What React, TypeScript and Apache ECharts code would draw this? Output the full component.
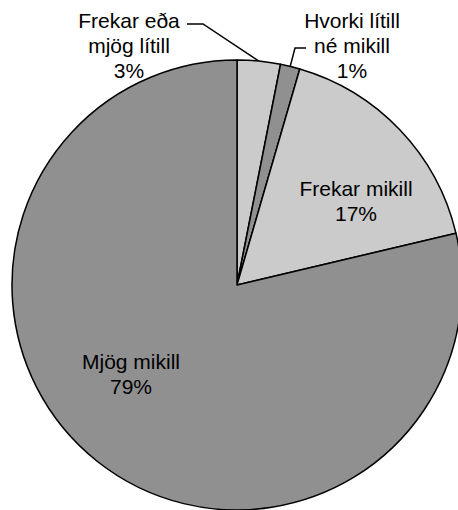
import React, { useEffect, useRef } from "react";
import * as echarts from "echarts";

const categories = ["Frekar eða\nmjög lítill", "Hvorki lítill\nné mikill", "Frekar mikill", "Mjög mikill"];
const values = [3.1, 1.4, 16.8, 78.7];
const colors = ["#cbcbcb", "#909090", "#cbcbcb", "#909090"];
const labelPositions = ["outside", "outside", "inside", "inside"];
// label centres and leader-line bends (layout, not data)
const labelCenters: number[][] = [[129, 45], [352, 45], [356, 201], [131, 374]];
const leaderBends: number[][][] = [
  [[203, 24], [187, 24]],
  [[295, 48], [306, 48]],
  [],
  [],
];

export default function App() {
  const ref = useRef<HTMLDivElement>(null);
  useEffect(() => {
    if (!ref.current) return;
    const chart = echarts.init(ref.current, undefined, { renderer: "svg" });
    chart.setOption({
      animation: false,
      backgroundColor: "#ffffff",
      series: [
        {
          type: "pie",
          center: [237, 285],
          radius: 225,
          startAngle: 90,
          clockwise: true,
          avoidLabelOverlap: false,
          silent: true,
          itemStyle: { borderColor: "#000000", borderWidth: 1.5 },
          label: {
            position: "inside",
            color: "#000000",
            fontFamily: "'Liberation Sans', Arial, sans-serif",
            fontSize: 21,
            lineHeight: 25,
            align: "center",
            formatter: (p: any) => `${p.name}\n${Math.round(p.value)}%`,
          },
          labelLine: {
            lineStyle: { color: "#000000", width: 1.5 },
          },
          labelLayout: (params: any) => {
            const i = params.dataIndex;
            const c = labelCenters[i];
            const res: any = { x: c[0], y: c[1], align: "center", verticalAlign: "middle" };
            if (leaderBends[i].length && params.labelLinePoints) {
              res.labelLinePoints = [params.labelLinePoints[0], ...leaderBends[i]];
            }
            return res;
          },
          data: categories.map((name, i) => ({
            name,
            value: values[i],
            itemStyle: { color: colors[i] },
            label: { position: labelPositions[i] },
            labelLine: { show: labelPositions[i] === "outside", length: 10, length2: 10 },
          })),
        },
      ],
    });
    return () => chart.dispose();
  }, []);
  return (
    <div
      ref={ref}
      style={{ position: "absolute", left: 0, top: 0, width: 458, height: 510 }}
    />
  );
}
